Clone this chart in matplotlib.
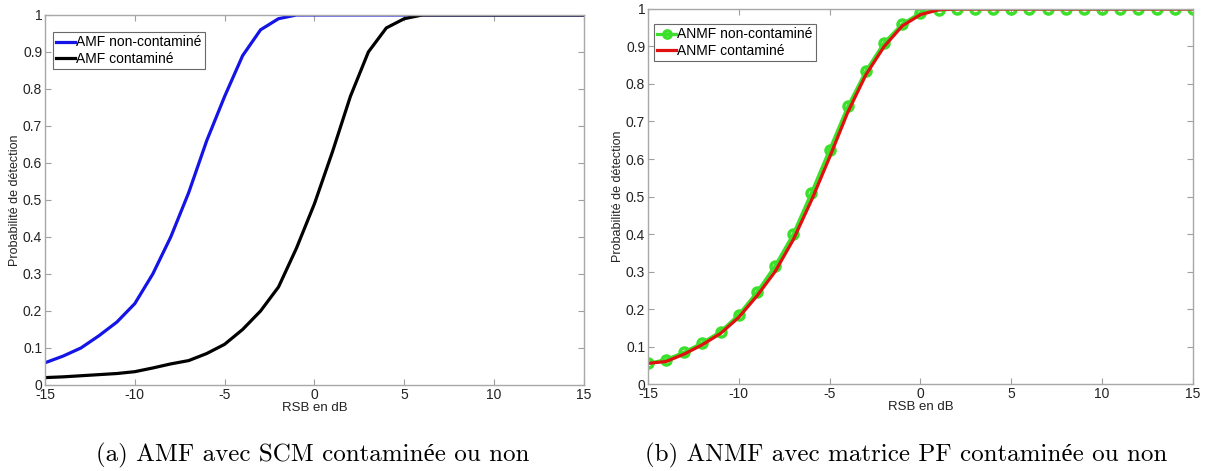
import matplotlib.pyplot as plt

# RSB (dB)
rsb = list(range(-15, 16))

# (a) AMF avec SCM
amf_non_cont = [0.06, 0.078, 0.10, 0.133, 0.17, 0.22, 0.30, 0.40, 0.52, 0.66, 0.78,
                0.89, 0.96, 0.99, 1.0, 1.0, 1.0, 1.0, 1.0, 1.0, 1.0, 1.0,
                1.0, 1.0, 1.0, 1.0, 1.0, 1.0, 1.0, 1.0, 1.0]
amf_cont = [0.02, 0.022, 0.025, 0.028, 0.031, 0.036, 0.046, 0.057, 0.066, 0.085, 0.11,
            0.15, 0.20, 0.265, 0.37, 0.49, 0.63, 0.78, 0.90, 0.965, 0.99, 1.0,
            1.0, 1.0, 1.0, 1.0, 1.0, 1.0, 1.0, 1.0, 1.0]

# (b) ANMF avec matrice PF
anmf_non_cont = [0.055, 0.065, 0.085, 0.11, 0.14, 0.185, 0.245, 0.315, 0.40, 0.51, 0.625,
                 0.74, 0.835, 0.91, 0.96, 0.99, 0.997, 1.0, 1.0, 1.0, 1.0, 1.0,
                 1.0, 1.0, 1.0, 1.0, 1.0, 1.0, 1.0, 1.0, 1.0]
anmf_cont = [0.055, 0.06, 0.08, 0.105, 0.135, 0.178, 0.235, 0.30, 0.385, 0.49, 0.605,
             0.725, 0.825, 0.90, 0.955, 0.985, 0.998, 1.0, 1.0, 1.0, 1.0, 1.0,
             1.0, 1.0, 1.0, 1.0, 1.0, 1.0, 1.0, 1.0, 1.0]

xticks = [-15, -10, -5, 0, 5, 10, 15]
yticks = [0, 0.1, 0.2, 0.3, 0.4, 0.5, 0.6, 0.7, 0.8, 0.9, 1]
ytick_labels = ["0", "0.1", "0.2", "0.3", "0.4", "0.5", "0.6", "0.7", "0.8", "0.9", "1"]

plt.rcParams["font.family"] = ["Liberation Sans", "DejaVu Sans"]

fig = plt.figure(figsize=(12.06, 4.71), dpi=100)
ax1 = fig.add_axes([0.0373, 0.1826, 0.4469, 0.7856])
ax2 = fig.add_axes([0.5373, 0.1847, 0.4519, 0.7962])


def style_axes(ax):
    ax.set_xlim(-15, 15)
    ax.set_ylim(0, 1)
    ax.set_xticks(xticks)
    ax.set_xticklabels([str(t) for t in xticks])
    ax.set_yticks(yticks)
    ax.set_yticklabels(ytick_labels)
    ax.tick_params(direction="in", top=True, right=True, labelsize=10,
                   color="#a0a0a0", length=4, pad=2, labelcolor="#222222")
    for s in ax.spines.values():
        s.set_color("#a8a8a8")
        s.set_linewidth(1.0)
    ax.set_xlabel("RSB en dB", fontsize=9.5, labelpad=0, color="#222222")
    ax.set_ylabel("Probabilité de détection", fontsize=9, labelpad=1, color="#222222")


leg_kw = dict(loc="upper left", fontsize=10, frameon=True, fancybox=False,
              edgecolor="#444444", handlelength=1.35, handletextpad=0.05,
              borderpad=0.25, labelspacing=0.15, borderaxespad=0)

ax1.plot(rsb, amf_non_cont, color="#1414e6", lw=2.3, label="AMF non-contaminé")
ax1.plot(rsb, amf_cont, color="black", lw=2.3, label="AMF contaminé")
style_axes(ax1)
leg1 = ax1.legend(bbox_to_anchor=(0.0148, 0.954), **leg_kw)
leg1.get_frame().set_linewidth(0.8)

ax2.plot(rsb, anmf_non_cont, color="#3be02a", lw=2.3, marker="o", ms=6.5,
         mfc="none", mew=2.5, label="ANMF non-contaminé")
ax2.plot(rsb, anmf_cont, color="#e01010", lw=2.3, label="ANMF contaminé")
style_axes(ax2)
leg2 = ax2.legend(bbox_to_anchor=(0.011, 0.96), markerscale=0.8, **leg_kw)
leg2.get_frame().set_linewidth(0.8)

cap_font = ["cmr10", "Liberation Serif"]
fig.text(0.2595, 0.034, "(a) AMF avec SCM contaminée ou non", ha="center",
         va="center", fontsize=18, family=cap_font)
fig.text(0.751, 0.034, "(b) ANMF avec matrice PF contaminée ou non", ha="center",
         va="center", fontsize=18, family=cap_font)

fig.savefig("out.png", dpi=100)
